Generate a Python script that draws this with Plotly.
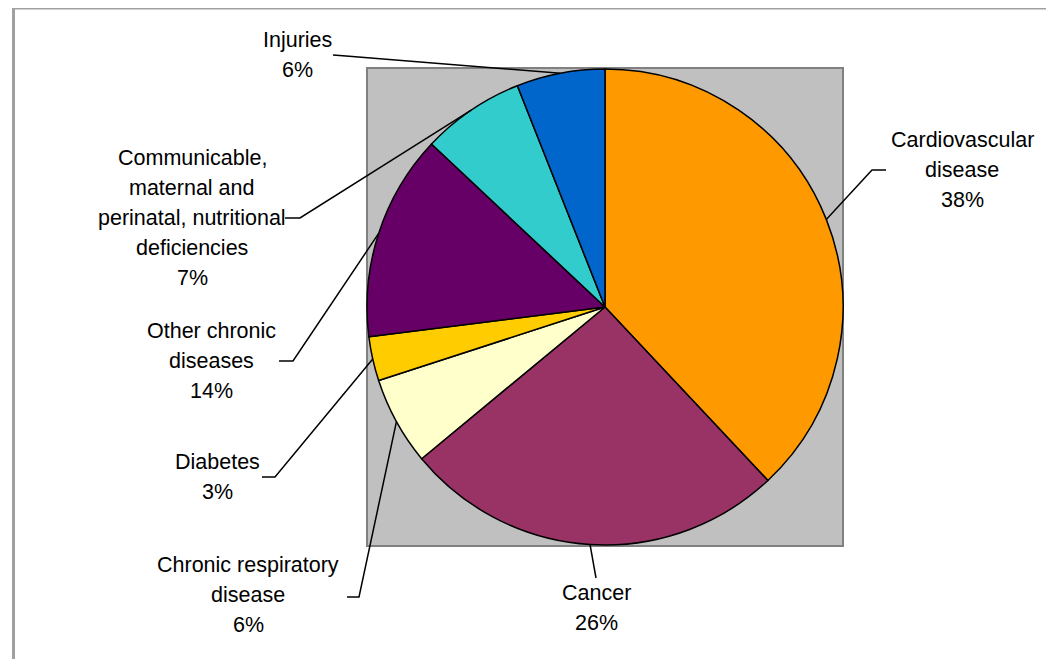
import math
import plotly.graph_objects as go

# ---- data ----
categories = [
    "Cardiovascular disease",
    "Cancer",
    "Chronic respiratory disease",
    "Diabetes",
    "Other chronic diseases",
    "Communicable, maternal and perinatal, nutritional deficiencies",
    "Injuries",
]
values = [38, 26, 6, 3, 14, 7, 6]
label_lines = [
    ["Cardiovascular", "disease"],
    ["Cancer"],
    ["Chronic respiratory", "disease"],
    ["Diabetes"],
    ["Other chronic", "diseases"],
    ["Communicable,", "maternal and", "perinatal, nutritional", "deficiencies"],
    ["Injuries"],
]
colors = ["#FF9900", "#993366", "#FFFFCC", "#FFCC00", "#660066", "#33CCCC", "#0066CC"]

# ---- layout (window pixels) ----
OFF = 8  # page body margin
W, H = 1054 - OFF, 659 - OFF
PIE_L, PIE_R, PIE_T, PIE_B = 367, 843, 69, 545
CX, CY = (PIE_L + PIE_R) / 2, (PIE_T + PIE_B) / 2
R = (PIE_R - PIE_L) / 2

# label placement: (center x, first line y, elbow point, horizontal end point)
label_layout = [
    (962, 140, (872, 170), (886, 170)),
    (596, 593, (596, 578), (596, 578)),
    (248, 565, (359, 597), (347, 597)),
    (217, 462, (275, 477), (262, 477)),
    (211, 331, (293, 361), (279, 361)),
    (192, 158, (300, 218), (285, 218)),
    (297, 40, (346, 56), (333, 55)),
]
LINE_H = 30
FONT = dict(family="Liberation Sans, Arial, sans-serif", size=21.5, color="black")


def px(x):
    return (x - OFF) / W


def py(y):
    return 1 - (y - OFF) / H


fig = go.Figure()
fig.add_trace(go.Pie(
    labels=categories,
    values=values,
    sort=False,
    direction="clockwise",
    rotation=0,
    textinfo="none",
    hoverinfo="label+percent",
    marker=dict(colors=colors, line=dict(color="black", width=1.5)),
    domain=dict(x=[px(PIE_L), px(PIE_R)], y=[py(PIE_B), py(PIE_T)]),
    showlegend=False,
))

shapes = [
    # outer chart frame
    dict(type="rect", xref="paper", yref="paper",
         x0=px(13.5), x1=px(1054 + 20), y0=py(659 + 20), y1=py(8),
         line=dict(color="#A0A0A0", width=3), fillcolor="rgba(0,0,0,0)", layer="below"),
    # grey plot area
    dict(type="rect", xref="paper", yref="paper",
         x0=px(367), x1=px(843), y0=py(546), y1=py(68),
         line=dict(color="#808080", width=2), fillcolor="#C0C0C0", layer="below"),
]

annotations = []
total = sum(values)
cum = 0
for i, v in enumerate(values):
    mid = (cum + v / 2) / total * 2 * math.pi
    cum += v
    ex = CX + R * math.sin(mid)
    ey = CY - R * math.cos(mid)
    cx, y0, elbow, end = label_layout[i]
    path = f"M {px(ex)},{py(ey)} L {px(elbow[0])},{py(elbow[1])} L {px(end[0])},{py(end[1])}"
    shapes.append(dict(type="path", xref="paper", yref="paper", path=path,
                       line=dict(color="black", width=1.5)))
    lines = label_lines[i] + [f"{v}%"]
    for k, t in enumerate(lines):
        annotations.append(dict(
            x=px(cx), y=py(y0 + k * LINE_H), xref="paper", yref="paper",
            text=t, showarrow=False, xanchor="center", yanchor="middle",
            font=FONT,
        ))

fig.update_layout(
    width=W, height=H,
    margin=dict(l=0, r=0, t=0, b=0),
    paper_bgcolor="white",
    plot_bgcolor="white",
    shapes=shapes,
    annotations=annotations,
)

fig.write_html("out.html")
